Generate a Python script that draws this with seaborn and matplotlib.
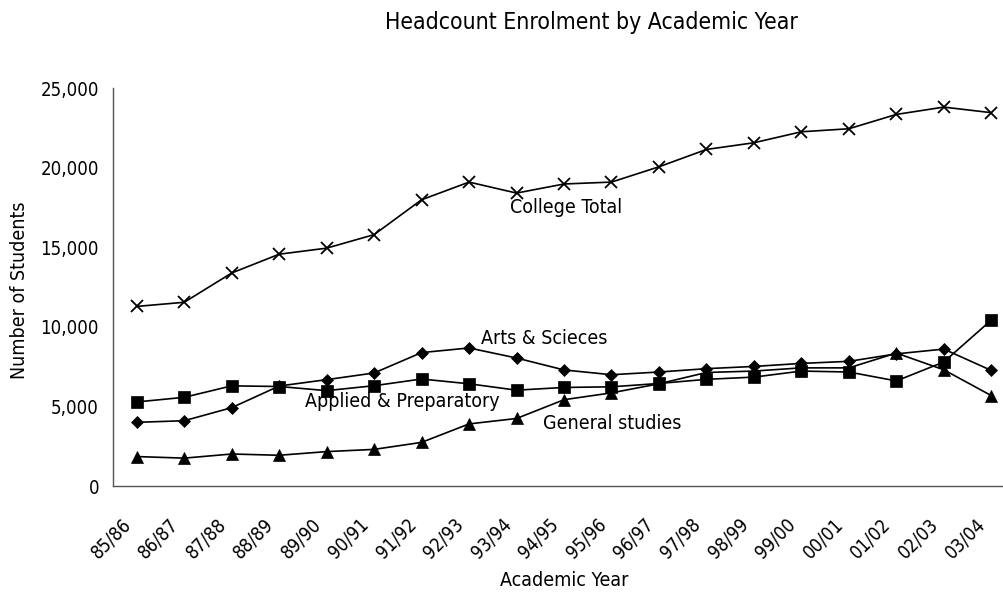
import matplotlib
matplotlib.use("Agg")
import matplotlib.pyplot as plt
from matplotlib.ticker import FuncFormatter, FixedLocator
import seaborn as sns
import pandas as pd

years = ["85/86", "86/87", "87/88", "88/89", "89/90", "90/91", "91/92", "92/93", "93/94",
         "94/95", "95/96", "96/97", "97/98", "98/99", "99/00", "00/01", "01/02", "02/03", "03/04"]
college_total = [11280, 11540, 13380, 14560, 14940, 15790, 17980, 19090, 18400,
                 18970, 19090, 20050, 21140, 21560, 22250, 22440, 23340, 23800, 23450]
arts_sciences = [4000, 4100, 4920, 6280, 6680, 7100, 8380, 8670, 8040,
                 7290, 6990, 7160, 7370, 7510, 7700, 7830, 8300, 8600, 7260]
applied_prep = [5280, 5570, 6290, 6250, 5990, 6300, 6720, 6420, 6020,
                6190, 6230, 6440, 6700, 6840, 7220, 7160, 6600, 7790, 10420]
general_studies = [1850, 1750, 2010, 1930, 2160, 2300, 2740, 3900, 4240,
                   5420, 5850, 6420, 7130, 7220, 7420, 7420, 8350, 7300, 5680]
series_names = ["College Total", "Arts & Scieces", "Applied & Preparatory", "General studies"]

rows = []
for name, vals in zip(series_names, [college_total, arts_sciences, applied_prep, general_studies]):
    for i, (yr, v) in enumerate(zip(years, vals)):
        rows.append({"pos": i, "Year": yr, "Students": v, "Series": name})
df = pd.DataFrame(rows)

sns.set_theme(style="white")
plt.rcParams["font.family"] = ["DejaVu Sans"]
plt.rcParams["font.stretch"] = "condensed"
plt.rcParams["text.color"] = "black"
plt.rcParams["axes.labelcolor"] = "black"
plt.rcParams["xtick.color"] = "black"
plt.rcParams["ytick.color"] = "black"

fig = plt.figure(figsize=(10.04, 5.92), dpi=100)
ax = fig.add_axes([113 / 1004, (592 - 486) / 592, (1015 - 113) / 1004, (486 - 88) / 592])

markers = {"College Total": "x", "Arts & Scieces": "D",
           "Applied & Preparatory": "s", "General studies": "^"}
sizes = {"College Total": 9, "Arts & Scieces": 6.5,
         "Applied & Preparatory": 8, "General studies": 8}
for name in series_names:
    sub = df[df["Series"] == name]
    sns.lineplot(data=sub, x="pos", y="Students", ax=ax, color="black", linewidth=1.2,
                 marker=markers[name], markersize=sizes[name], markeredgecolor="black",
                 markerfacecolor="black", markeredgewidth=1.3 if name == "College Total" else 0.5,
                 legend=False, sort=False)

ax.set_xlim(-0.5, len(years) - 0.5)
ax.set_ylim(0, 25000)
ax.yaxis.set_major_locator(FixedLocator([0, 5000, 10000, 15000, 20000, 25000]))
ax.yaxis.set_major_formatter(FuncFormatter(lambda v, p: f"{int(v):,}"))
ax.set_xticks(range(len(years)))
ax.set_xticklabels([""] * len(years))
for i, yr in enumerate(years):
    ax.annotate(yr, xy=(i, 0), xycoords=("data", "axes fraction"),
                xytext=(-15, -29), textcoords="offset pixels",
                rotation=45, ha="right", va="top", rotation_mode="anchor",
                fontsize=13.4, annotation_clip=False)
ax.set_xticks([i - 0.5 for i in range(len(years) + 1)], minor=True)
ax.tick_params(axis="x", which="major", length=0)
ax.tick_params(axis="x", which="minor", length=5, width=1, color="#555555", direction="out")
ax.tick_params(axis="y", which="major", length=6, width=1, color="#555555", direction="out",
               labelsize=13.4, pad=4)
for s in ["top", "right"]:
    ax.spines[s].set_visible(False)
for s in ["left", "bottom"]:
    ax.spines[s].set_color("#555555")
    ax.spines[s].set_linewidth(1)
ax.grid(False)

ax.set_xlabel("")
ax.set_ylabel("")
fig.text(564 / 1004, 1 - 580 / 592, "Academic Year", ha="center", va="center", fontsize=14)
fig.text(20 / 1004, 1 - 290 / 592, "Number of Students", ha="center", va="center",
         rotation=90, fontsize=14)
fig.text(591 / 1004, 1 - 22 / 592, "Headcount Enrolment by Academic Year",
         ha="center", va="center", fontsize=16.5)

ann = {"College Total": (9.05, 17480), "Arts & Scieces": (8.58, 9290),
       "Applied & Preparatory": (5.60, 5295), "General studies": (10.01, 3940)}
for name, (xv, yv) in ann.items():
    ax.text(xv, yv, name, fontsize=14, ha="center", va="center")

fig.savefig("out.png", dpi=100)
